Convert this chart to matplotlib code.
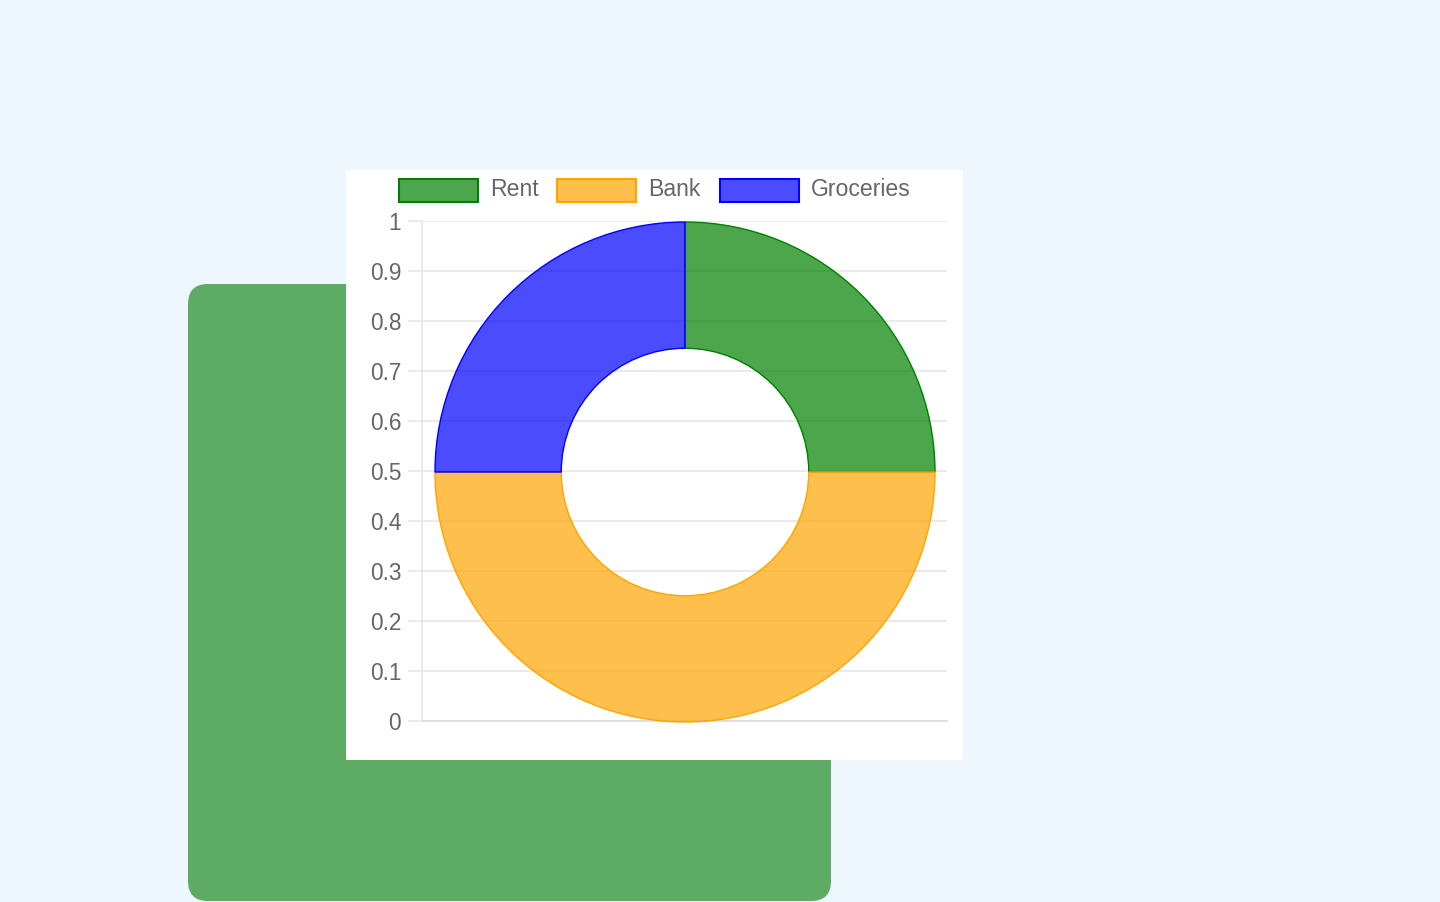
import numpy as np
from matplotlib import pyplot as plt
from matplotlib.patches import FancyBboxPatch, Rectangle

# Chart data
labels = ["Rent", "Bank", "Groceries"]
values = [25, 50, 25]
fills = [(0, 0.5, 0, 0.7), (1, 0.647, 0, 0.7), (0, 0, 1, 0.7)]
edges = ["#008000", "#ffa500", "#0000ff"]
ytick_values = np.round(np.arange(0, 1.01, 0.1), 1)
ytick_labels = ["0", "0.1", "0.2", "0.3", "0.4", "0.5", "0.6", "0.7", "0.8", "0.9", "1"]

plt.rcParams["font.family"] = ["Liberation Sans", "DejaVu Sans"]

W, H = 1440, 902
figure = plt.figure(figsize=(W / 100, H / 100), dpi=100)
figure.patch.set_facecolor("#eef6fe")


def box(left, top, right, bottom):
    """Axes rectangle from pixel edges (origin top-left)."""
    return [left / W, (H - bottom) / H, (right - left) / W, (bottom - top) / H]


# Page backdrop drawn in pixel coordinates
page = figure.add_axes([0, 0, 1, 1])
page.set_xlim(0, W)
page.set_ylim(H, 0)
page.axis("off")

page.add_patch(FancyBboxPatch((188, 284), 643, 617,
                              boxstyle="round,pad=0,rounding_size=20",
                              facecolor="#5eab64", edgecolor="none"))
page.add_patch(Rectangle((346, 170), 617, 590, facecolor="white", edgecolor="none"))

# Legend
legend_x = [399, 557, 720]
for x, label, fill, edge in zip(legend_x, labels, fills, edges):
    page.add_patch(Rectangle((x, 179), 79, 23, facecolor=fill, edgecolor=edge, linewidth=1.5))
    page.text(x + 91, 190, label, fontsize=16.6, color="#666666", va="center", ha="left")

# Cartesian axis behind the doughnut
axis = figure.add_axes(box(422, 221, 947, 721))
axis.set_facecolor("none")
axis.set_xlim(0, 1)
axis.set_ylim(0, 1)
axis.set_xticks([])
axis.set_yticks(ytick_values)
axis.set_yticklabels(ytick_labels)
axis.grid(axis="y", color="#e6e6e6", linewidth=1.2)
axis.set_axisbelow(True)
for side in ["top", "right", "bottom"]:
    axis.spines[side].set_visible(False)
axis.spines["left"].set_color("#e6e6e6")
axis.spines["left"].set_linewidth(1.2)
axis.tick_params(axis="y", length=10, width=1.2, color="#e6e6e6",
                 pad=5, labelsize=16.3, labelcolor="#666666")
axis.axhline(0, color="#d9d9d9", linewidth=1.2, clip_on=False)

# Doughnut
donut = figure.add_axes(box(435, 222, 935, 722))
donut.set_facecolor("none")
donut.pie(values, colors=fills, startangle=90, counterclock=False, radius=1,
          wedgeprops={"width": 0.505, "linewidth": 1.0})
wedges = donut.patches
for wedge, edge in zip(wedges, edges):
    wedge.set_edgecolor(edge)
donut.set_xlim(-1, 1)
donut.set_ylim(-1, 1)
donut.set_aspect("equal")
donut.axis("off")

plt.savefig("out.png", dpi=100, facecolor=figure.get_facecolor())
